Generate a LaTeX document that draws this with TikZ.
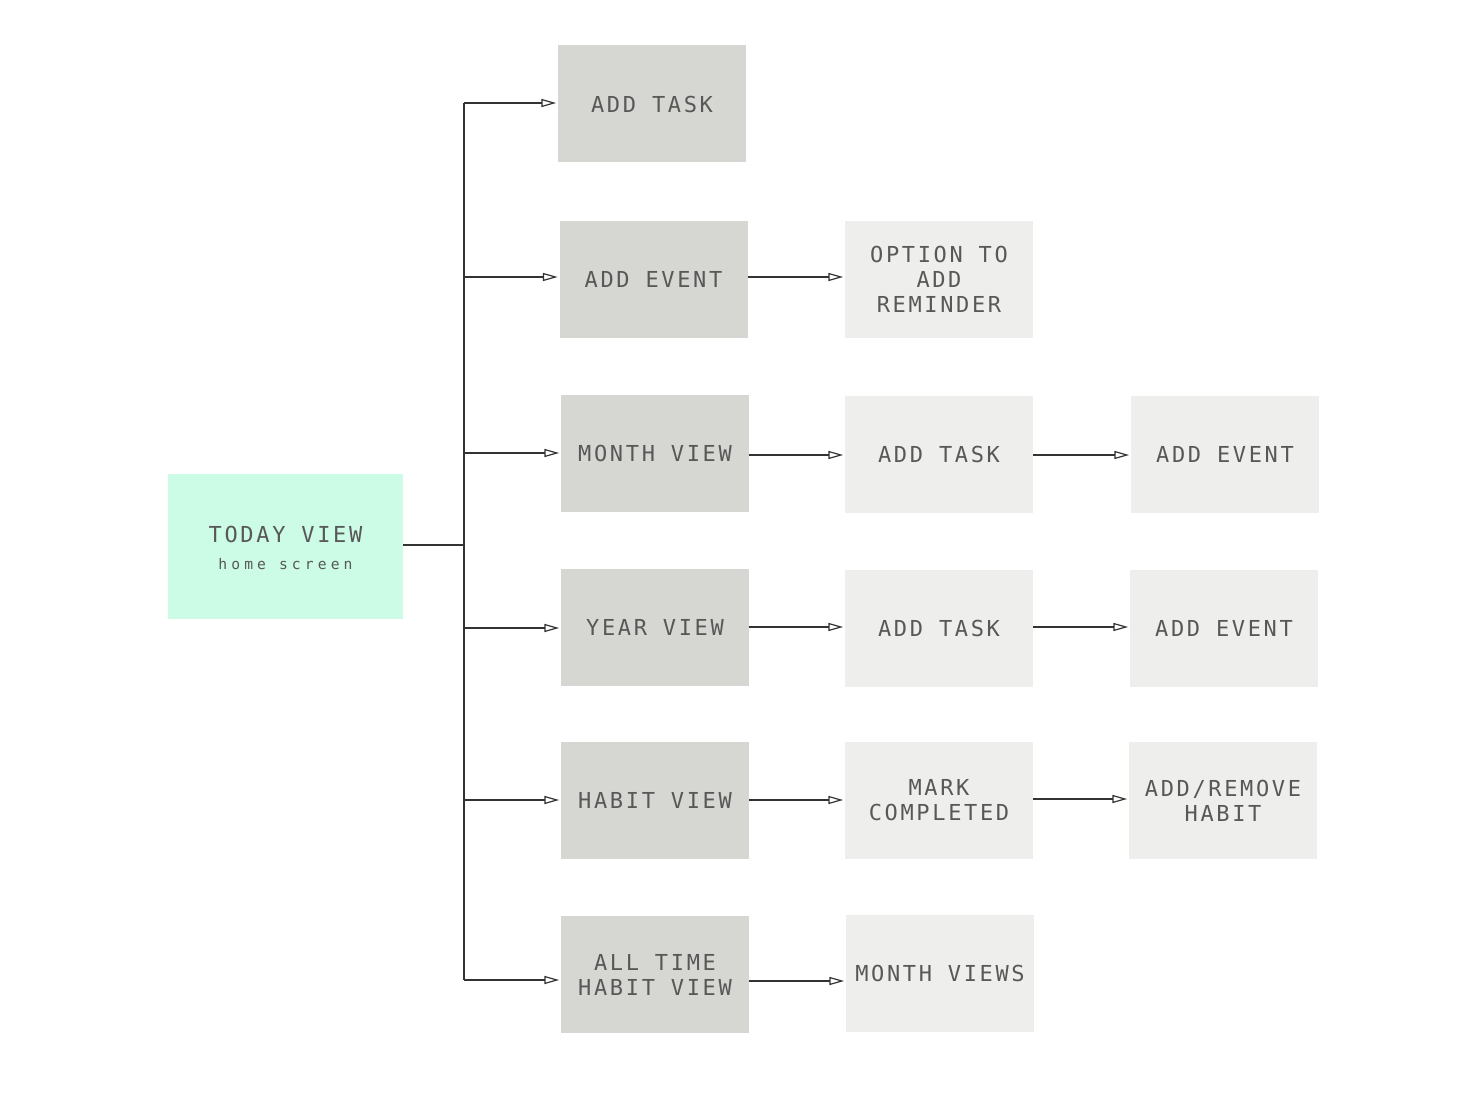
\documentclass[tikz,border=0pt]{standalone}
\usepackage{fontspec}
\usetikzlibrary{arrows.meta}
\newfontfamily\boxfont[LetterSpace=12]{DejaVu Sans Mono}
\newfontfamily\subfont[LetterSpace=28]{DejaVu Sans Mono}
\definecolor{boxdark}{HTML}{D6D6D2}
\definecolor{boxlight}{HTML}{EEEEEC}
\definecolor{mint}{HTML}{CCFBE6}
\definecolor{txt}{HTML}{585858}
\definecolor{linec}{HTML}{333333}
\tikzset{
  basebox/.style={minimum width=141pt, minimum height=87.75pt, inner sep=2pt, align=center,
    text=txt, font=\boxfont\fontsize{16.5}{18.75}\selectfont},
  darkbox/.style={basebox, fill=boxdark},
  lightbox/.style={basebox, fill=boxlight},
  homebox/.style={basebox, fill=mint, minimum width=176.25pt, minimum height=108.75pt},
  conn/.style={draw=linec, line width=0.9pt, shorten >=1.2pt, -{Triangle[open,length=11pt,width=6pt,line width=0.9pt]}},
  plain/.style={draw=linec, line width=0.9pt}
}
\begin{document}
\begin{tikzpicture}[x=0.75pt,y=-0.75pt]
\useasboundingbox (0,0) rectangle (1479,1102);
% home
\node[homebox] (today) at (285.5,546.5) {};
\node[text=txt, font=\boxfont\fontsize{16.5}{18.75}\selectfont] (todaylabel) at (285.5,534) {TODAY VIEW};
\node[text=txt, font=\subfont\fontsize{11}{13}\selectfont] (homelabel) at (285.5,564) {home screen};
% column 1
\node[darkbox] (addtask) at (652,104) {ADD TASK};
\node[darkbox] (addevent) at (653.5,279.5) {ADD EVENT};
\node[darkbox] (month) at (655,453.5) {MONTH VIEW};
\node[darkbox] (year) at (655,627.5) {YEAR VIEW};
\node[darkbox] (habit) at (655,800.5) {HABIT VIEW};
\node[darkbox] (alltime) at (655,974.5) {ALL TIME\\HABIT VIEW};
% column 2
\node[lightbox] (reminder) at (939,279.5) {OPTION TO\\ADD\\REMINDER};
\node[lightbox] (mtask) at (939,454.5) {ADD TASK};
\node[lightbox] (ytask) at (939,628.5) {ADD TASK};
\node[lightbox] (mark) at (939,800.5) {MARK\\COMPLETED};
\node[lightbox] (mviews) at (940,973.5) {MONTH VIEWS};
% column 3
\node[lightbox] (mevent) at (1225,454.5) {ADD EVENT};
\node[lightbox] (yevent) at (1224,628.5) {ADD EVENT};
\node[lightbox] (addremove) at (1223,800.5) {ADD/REMOVE\\HABIT};
% trunk
\coordinate (trunk) at (464,545);
\coordinate (ttop) at (464,103);
\coordinate (tbot) at (464,980);
\draw[plain] (today.east |- trunk) -- (trunk);
\draw[plain] (ttop) -- (tbot);
\draw[conn] (ttop) -- (addtask.west |- ttop);
\draw[conn] (464,277) -- (addevent.west |- 0,277);
\draw[conn] (464,453) -- (month.west |- 0,453);
\draw[conn] (464,628) -- (year.west |- 0,628);
\draw[conn] (464,800) -- (habit.west |- 0,800);
\draw[conn] (tbot) -- (alltime.west |- tbot);
% column 1 -> 2
\draw[conn] (addevent.east |- 0,277) -- (reminder.west |- 0,277);
\draw[conn] (month.east |- 0,455) -- (mtask.west |- 0,455);
\draw[conn] (year.east |- 0,627) -- (ytask.west |- 0,627);
\draw[conn] (habit.east |- 0,800) -- (mark.west |- 0,800);
\draw[conn] (alltime.east |- 0,981) -- (mviews.west |- 0,981);
% column 2 -> 3
\draw[conn] (mtask.east |- 0,455) -- (mevent.west |- 0,455);
\draw[conn] (ytask.east |- 0,627) -- (yevent.west |- 0,627);
\draw[conn] (mark.east |- 0,799) -- (addremove.west |- 0,799);
\end{tikzpicture}
\end{document}
